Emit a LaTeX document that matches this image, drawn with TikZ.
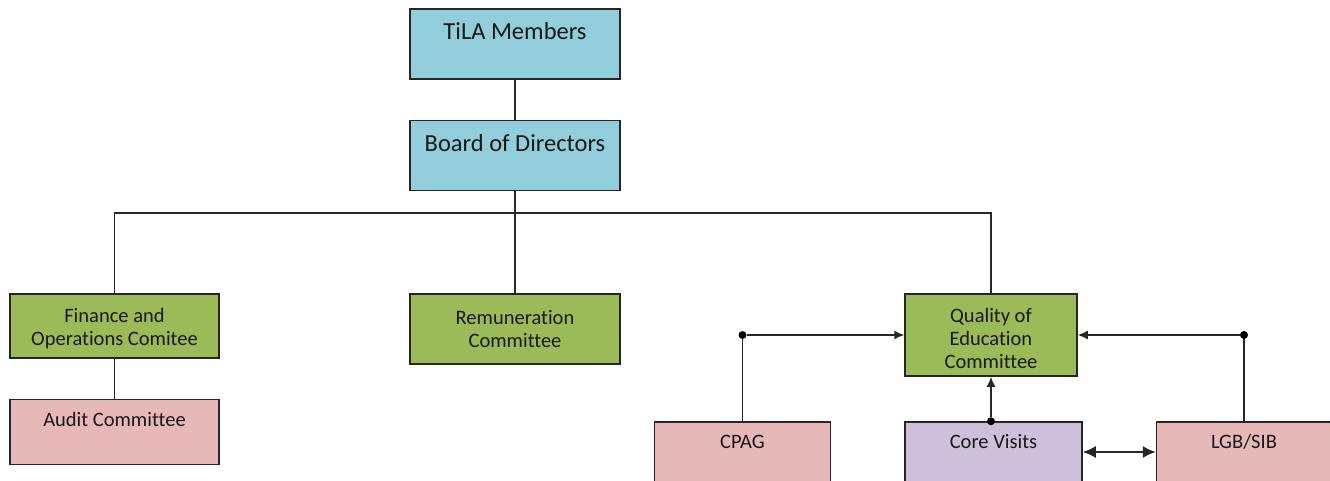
\documentclass[tikz,border=0pt]{standalone}
\usepackage{fontspec}
\setmainfont{Carlito}[Ligatures=NoCommon]
\usetikzlibrary{positioning}
\usetikzlibrary{arrows.meta}
\definecolor{boardblue}{HTML}{92CDDC}
\definecolor{comgreen}{HTML}{9BBB59}
\definecolor{subpink}{HTML}{E6B8B7}
\definecolor{visitlilac}{HTML}{CCC0DA}
\tikzstyle{orgbox} = [draw=black!85, line width=1.5pt, rectangle, align=center, text=black!90, inner sep=2pt]
\tikzstyle{bigtext} = [font=\fontsize{24.5}{28}\selectfont]
\tikzstyle{smalltext} = [font=\fontsize{20.5}{23}\selectfont]
\tikzstyle{lift} = [text height=14pt, text depth=#1]
\tikzstyle{colorTop} = [fill=boardblue]
\tikzstyle{colorCom} = [fill=comgreen]
\tikzstyle{colorSub} = [fill=subpink]
\tikzstyle{colorCore} = [fill=visitlilac]
\tikzstyle{joint} = [circle, fill=black, inner sep=0pt, minimum size=8pt]
\tikzstyle{link} = [draw=black!85, line width=1.5pt]

\begin{document}
\begin{tikzpicture}[x=1pt, y=1pt]
  \useasboundingbox (0,0) rectangle (1330,480);

  \node[orgbox, bigtext, colorTop, minimum width=210pt, minimum height=70pt, lift=23pt] (members) at (515,436) {TiLA Members};
  \node[orgbox, bigtext, colorTop, minimum width=210pt, minimum height=70pt, lift=21pt, below=40pt of members] (board) {Board of Directors};
  \coordinate (bus) at (515,267);

  \node[orgbox, smalltext, colorCom, minimum width=209pt, minimum height=64pt, text height=43pt] (finance) at (114.5,154) {Finance and\\Operations Comitee};
  \node[orgbox, smalltext, colorSub, minimum width=209pt, minimum height=65pt, lift=26pt, below=40pt of finance] (audit) {Audit Committee};
  \node[orgbox, smalltext, colorCom, minimum width=210pt, minimum height=70pt] (remun) at (515,151) {Remuneration\\Committee};
  \node[orgbox, smalltext, colorCom, minimum width=172pt, minimum height=82pt, text height=68pt] (quality) at (991,145) {Quality of\\Education\\Committee};

  \node[orgbox, smalltext, colorCore, minimum width=177pt, minimum height=80pt, lift=41pt] (core) at (993.5,18) {Core Visits};
  \node[orgbox, smalltext, colorSub, minimum width=176pt, minimum height=80pt, lift=41pt, left=73pt of core] (cpag) {CPAG};
  \node[orgbox, smalltext, colorSub, minimum width=175pt, minimum height=80pt, lift=41pt, right=73pt of core] (lgb) {LGB/SIB};

  \node[joint] (cpagdot) at (cpag |- quality) {};
  \node[joint] (lgbdot) at (lgb |- quality) {};
  \node[joint] (coredot) at (quality |- core.north) {};

  \draw[link] (members) -- (board);
  \draw[link] (board) -- (bus);
  \draw[link] (bus) -| (finance);
  \draw[link] (bus) -- (remun);
  \draw[link] (bus) -| (quality);
  \draw[link] (finance) -- (audit);

  \draw[link] (cpag) -- (cpagdot);
  \draw[link, -{Latex[length=10pt, width=9pt]}] (cpagdot) -- (quality);
  \draw[link] (lgb) -- (lgbdot);
  \draw[link, -{Latex[length=10pt, width=9pt]}] (lgbdot) -- (quality);
  \draw[link, -{Latex[length=10pt, width=9pt]}] (coredot) -- (quality);
  \draw[link, {Latex[length=13pt, width=12pt]}-{Latex[length=13pt, width=12pt]}] ([yshift=10pt]core.east) -- ([yshift=10pt]lgb.west);
\end{tikzpicture}
\end{document}
